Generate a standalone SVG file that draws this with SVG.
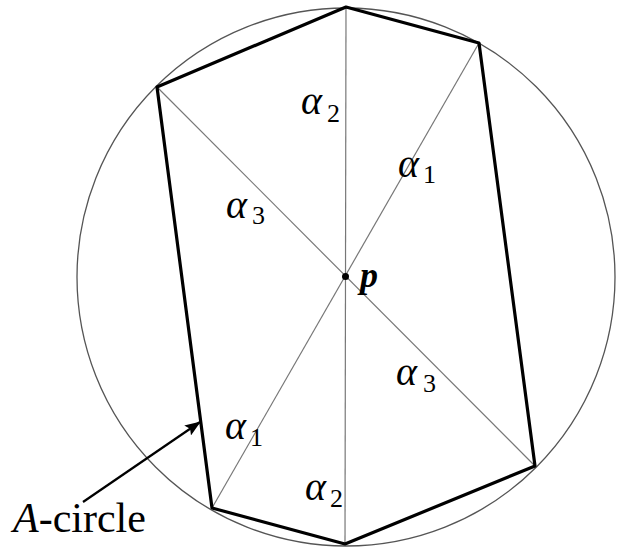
<svg xmlns="http://www.w3.org/2000/svg" width="620" height="550" viewBox="0 0 620 550">
<defs>
<style>
.circ{fill:none;stroke:#555;stroke-width:1.3}
.diag{fill:none;stroke:#777;stroke-width:1.2}
.hex{fill:none;stroke:#000;stroke-width:3.2;stroke-linejoin:round}
.arr{fill:none;stroke:#000;stroke-width:2.2}
text{font-family:'Liberation Serif','Times New Roman','DejaVu Serif','Noto Serif',serif;fill:#000}
.al{font-style:italic;font-size:40px}
.sub{font-size:26px}
.lbl{font-size:42px}
</style>
<marker id="ah2" viewBox="0 0 16 12" refX="15" refY="6" markerWidth="16" markerHeight="12" markerUnits="userSpaceOnUse" orient="auto">
<path d="M0,0 L16,6 L0,12 L3,6 z" fill="#000"/>
</marker>
</defs>
<g id="circle"><circle class="circ" cx="346" cy="277" r="269"/></g>
<g id="connectors">
<line class="diag" x1="346" y1="7" x2="345" y2="544"/>
<line class="diag" x1="157" y1="87" x2="535" y2="466"/>
<line class="diag" x1="479" y1="43" x2="212" y2="508"/>
<line class="arr" x1="83" y1="502" x2="200" y2="422" marker-end="url(#ah2)"/>
</g>
<g id="hexagon"><polygon class="hex" points="346,7 479,43 535,466 345,544 212,508 157,87"/></g>
<g id="p"><circle cx="345.5" cy="276.5" r="3.5" fill="#000"/>
<text x="360" y="287" font-style="italic" font-weight="bold" font-size="36">p</text></g>
<g id="labels">
<text class="al" x="301" y="114">α</text><text class="sub" x="327" y="122">2</text>
<text class="al" x="398" y="177">α</text><text class="sub" x="423" y="183">1</text>
<text class="al" x="226" y="218">α</text><text class="sub" x="252" y="224">3</text>
<text class="al" x="396" y="385">α</text><text class="sub" x="423" y="392">3</text>
<text class="al" x="225" y="439">α</text><text class="sub" x="250" y="446">1</text>
<text class="al" x="305" y="500">α</text><text class="sub" x="330" y="507">2</text>
</g>
<g id="acircle"><text class="lbl" x="13" y="532"><tspan font-style="italic">A</tspan>-circle</text></g>
</svg>
